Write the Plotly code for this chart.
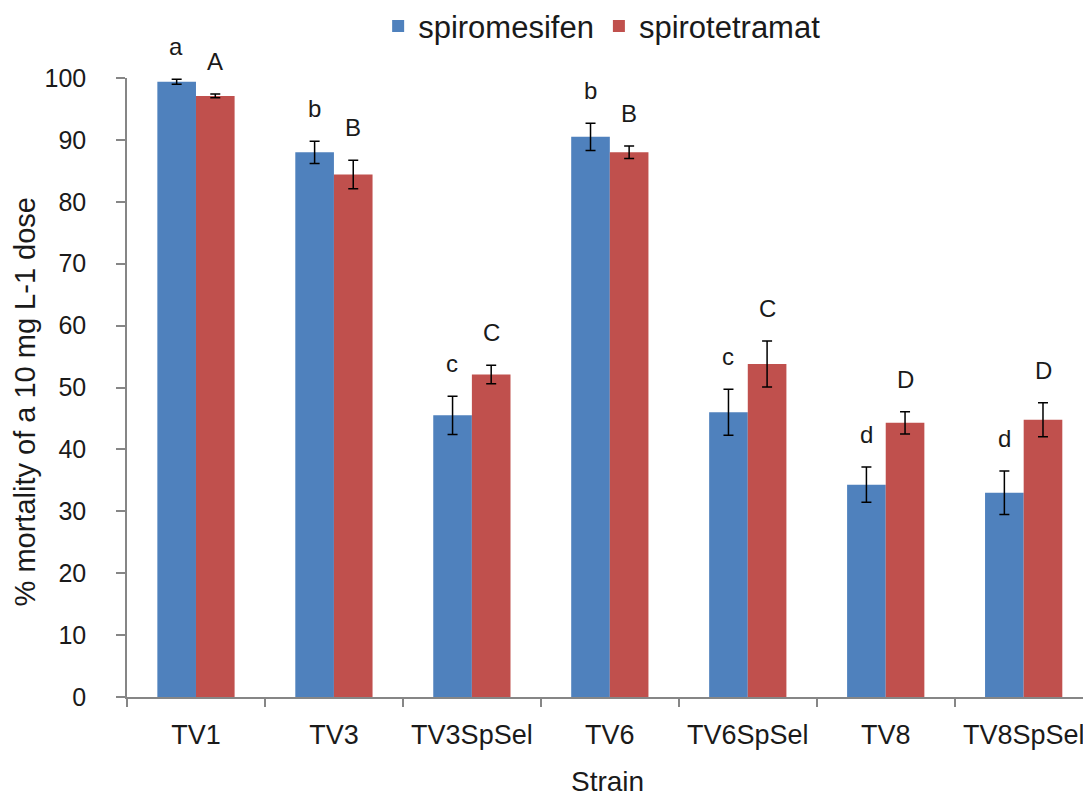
import plotly.graph_objects as go

strains = ["TV1", "TV3", "TV3SpSel", "TV6", "TV6SpSel", "TV8", "TV8SpSel"]
spiromesifen = [99.4, 88.0, 45.5, 90.5, 46.0, 34.3, 33.0]
spiromesifen_err = [0.4, 1.8, 3.1, 2.2, 3.7, 2.85, 3.5]
spirotetramat = [97.1, 84.4, 52.1, 88.0, 53.8, 44.3, 44.8]
spirotetramat_err = [0.3, 2.3, 1.5, 1.0, 3.7, 1.8, 2.75]
letters_mes = ["a", "b", "c", "b", "c", "d", "d"]
letters_tet = ["A", "B", "C", "B", "C", "D", "D"]

BLUE = "#4F81BD"
RED = "#C0504D"
FONT = "Liberation Sans, Arial, sans-serif"

fig = go.Figure()
fig.add_trace(go.Bar(
    name="spiromesifen", x=strains, y=spiromesifen, marker_color=BLUE,
    marker_line_width=0,
    error_y=dict(type="data", array=spiromesifen_err, color="black", thickness=1.5, width=5),
))
fig.add_trace(go.Bar(
    name="spirotetramat", x=strains, y=spirotetramat, marker_color=RED,
    marker_line_width=0,
    error_y=dict(type="data", array=spirotetramat_err, color="black", thickness=1.5, width=5),
))

annotations = []
for s, v, e, t in zip(strains, spiromesifen, spiromesifen_err, letters_mes):
    annotations.append(dict(x=s, y=v + e, text=t, showarrow=False, xshift=-19.5,
                            yanchor="bottom", yshift=17, font=dict(size=24, color="#1a1a1a", family=FONT)))
for s, v, e, t in zip(strains, spirotetramat, spirotetramat_err, letters_tet):
    annotations.append(dict(x=s, y=v + e, text=t, showarrow=False, xshift=19.5,
                            yanchor="bottom", yshift=17, font=dict(size=24, color="#1a1a1a", family=FONT)))

annotations.append(dict(xref="paper", yref="paper", x=-0.107, y=0.477, text="% mortality of a 10 mg L-1 dose",
                        textangle=-90, showarrow=False, xanchor="center", yanchor="middle",
                        font=dict(size=29, color="#1a1a1a", family=FONT)))
annotations.append(dict(xref="paper", yref="paper", x=0.503, y=-0.137, text="Strain",
                        showarrow=False, xanchor="center", yanchor="middle",
                        font=dict(size=28, color="#1a1a1a", family=FONT)))

fig.update_layout(
    width=1083, height=798,
    margin=dict(l=127, r=0, t=78, b=101, autoexpand=False),
    paper_bgcolor="white", plot_bgcolor="white",
    barmode="group", bargap=0.44, bargroupgap=0,
    font=dict(family=FONT, color="#1a1a1a"),
    showlegend=True,
    legend=dict(orientation="h", x=0.556, xanchor="center", xref="container",
                y=0.967, yanchor="middle", yref="container",
                font=dict(size=31, family=FONT, color="#1a1a1a"), itemwidth=30,
                traceorder="normal"),
    annotations=annotations,
    xaxis=dict(type="category", range=[-0.5, 6.43], tickson="boundaries", automargin=False,
               ticks="outside", ticklen=8, tickcolor="#868686", tickwidth=1.5,
               showline=True, linecolor="#868686", linewidth=1.5, tickangle=0,
               showgrid=False, tickfont=dict(size=27, family=FONT, color="#1a1a1a"),
               ticklabelstandoff=13),
    yaxis=dict(range=[0, 100], dtick=10, ticks="outside", ticklen=9, tickcolor="#868686",
               tickwidth=1.5, showline=True, linecolor="#868686", linewidth=1.5,
               showgrid=False, zeroline=False, automargin=False,
               tickfont=dict(size=25, family=FONT, color="#1a1a1a"), ticklabelstandoff=25),
)

fig.write_html("out.html", config={"displayModeBar": False},
               post_script="document.body.style.margin='0';document.body.style.overflow='hidden';")
